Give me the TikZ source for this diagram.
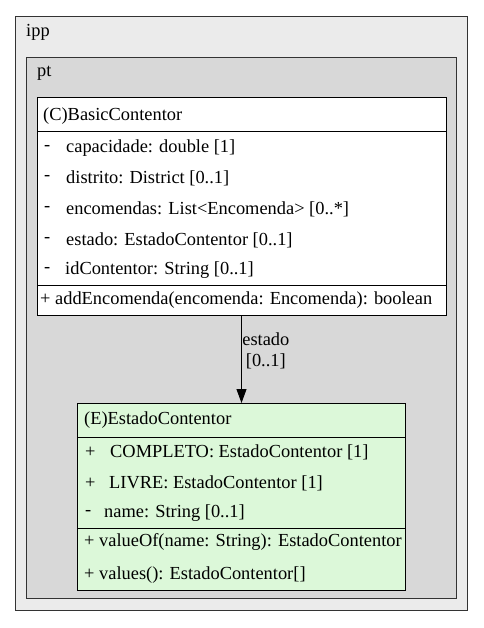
\documentclass[tikz,border=0pt]{standalone}
\usepackage{fontspec}
\setmainfont{Liberation Serif}
\usetikzlibrary{arrows.meta}
\definecolor{ippgray}{HTML}{EBEBEB}
\definecolor{ptgray}{HTML}{D8D8D8}
\definecolor{enumgreen}{HTML}{DCF8D9}
\tikzstyle{pkg} = [rectangle, draw=black!80, line width=1pt, anchor=north west, inner sep=0pt]
\tikzstyle{cls} = [rectangle, draw=black, line width=1pt, anchor=north west, inner sep=0pt]
\tikzstyle{row} = [anchor=west, inner sep=0pt, font=\fontsize{18.4}{21}\selectfont]
\tikzstyle{arrow} = [line width=1pt, -{Triangle[length=14pt,width=10pt]}]

\begin{document}
\begin{tikzpicture}[x=1pt, y=-1pt]
\useasboundingbox (0,0) rectangle (483,628);
% packages
\node(ipp)[pkg, fill=ippgray, minimum width=452pt, minimum height=594pt] at (15,16) {};
\node(ipplbl)[row] at (26,32) {ipp};
\node(pt)[pkg, fill=ptgray, minimum width=430pt, minimum height=541pt] at (26,57) {};
\node(ptlbl)[row] at (37,73) {pt};
% BasicContentor
\node(bc)[cls, fill=white, minimum width=409pt, minimum height=218pt] at (37,97) {};
\draw[line width=1pt] ([yshift=-35pt]bc.north west) -- ([yshift=-35pt]bc.north east);
\draw[line width=1pt] ([yshift=-188pt]bc.north west) -- ([yshift=-188pt]bc.north east);
\node(bctitle)[row] at (43,116) {(C)BasicContentor};
\node(bcv1)[row] at (44,148) {-};
\node(bca1)[row] at (66,148) {capacidade: double [1]};
\node(bcv2)[row] at (44,178) {-};
\node(bca2)[row] at (66,178) {distrito: District [0..1]};
\node(bcv3)[row] at (44,209) {-};
\node(bca3)[row] at (66,209) {encomendas: List<Encomenda> [0..*]};
\node(bcv4)[row] at (44,240) {-};
\node(bca4)[row] at (66,240) {estado: EstadoContentor [0..1]};
\node(bcv5)[row] at (44,270) {-};
\node(bca5)[row] at (65,270) {idContentor: String [0..1]};
\node(bcm1)[row] at (40,300) {+ addEncomenda(encomenda: Encomenda): boolean};
% EstadoContentor
\node(ec)[cls, fill=enumgreen, minimum width=328pt, minimum height=187pt] at (77,403) {};
\draw[line width=1pt] ([yshift=-34pt]ec.north west) -- ([yshift=-34pt]ec.north east);
\draw[line width=1pt] ([yshift=-125pt]ec.north west) -- ([yshift=-125pt]ec.north east);
\node(ectitle)[row] at (84,420) {(E)EstadoContentor};
\node(ecv1)[row] at (85,452) {+};
\node(eca1)[row] at (110,452) {COMPLETO: EstadoContentor [1]};
\node(ecv2)[row] at (85,483) {+};
\node(eca2)[row] at (109,483) {LIVRE: EstadoContentor [1]};
\node(ecv3)[row] at (85,513) {-};
\node(eca3)[row] at (104,513) {name: String [0..1]};
\node(ecm1)[row] at (84,542) {+ valueOf(name: String): EstadoContentor};
\node(ecm2)[row] at (84,575) {+ values(): EstadoContentor[]};
% association
\draw[arrow] (bc.south -| ec.north) -- (ec.north) node[pos=0.4, right=-3pt, align=center, font=\fontsize{18.4}{21}\selectfont] {estado\\{}[0..1]};
\end{tikzpicture}
\end{document}
